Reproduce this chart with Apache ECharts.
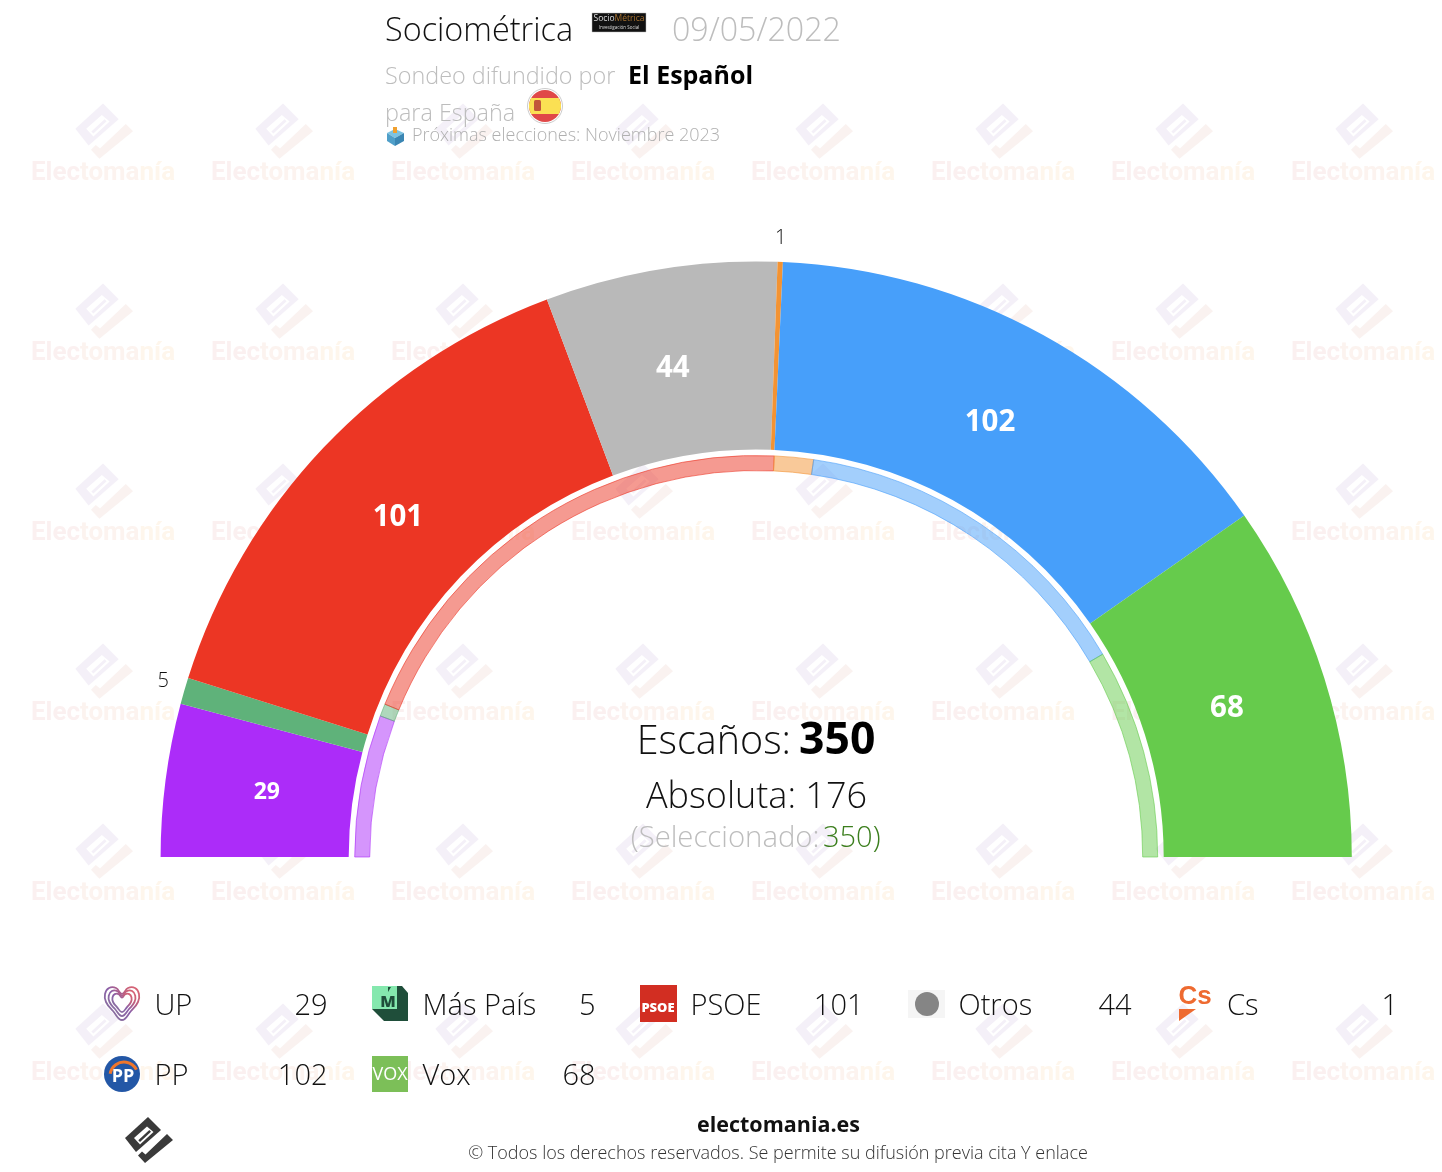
<!DOCTYPE html>
<html><head><meta charset="utf-8">
<style>html,body{margin:0;padding:0;background:#fff}#c{width:1442px;height:1172px}</style>
<script src="https://cdn.jsdelivr.net/npm/echarts@6/dist/echarts.min.js"></script>
</head><body><div id="c"></div>
<script>
const parties = ['UP','Más País','PSOE','Otros','Cs','PP','Vox'];
const seats = [29,5,101,44,1,102,68];
const colors = ['#AC2CF9','#5FB27A','#EC3624','#B9B9B9','#F39333','#479FFA','#66CB4C'];
const prevParties = ['UP','Más País','PSOE','Cs','PP','Vox'];
const prevSeats = [40,3.5,136.5,11,100,59];
const prevColors = ['#AC2CF9','#5FB27A','#EC3624','#F39333','#479FFA','#66CB4C'];
const FONT = '"Open Sans"';

const chart = echarts.init(document.getElementById('c'), null, {renderer:'canvas'});
const g = [];
function txt(text,x,y,size,fill,opt){opt=opt||{};g.push({type:'text',z:opt.z||20,silent:true,style:{text,x,y,fill,
  font:(opt.weight||'300')+' '+size+'px '+(opt.family||FONT),textAlign:opt.align||'left',textVerticalAlign:'middle'}});}
function poly(points,fill,z,stroke){g.push({type:'polygon',z:z,silent:true,shape:{points},style:{fill,stroke:stroke||null}});}
function logoPts(cx,cy,s){
  const m=a=>a.map(p=>[cx+p[0]*s,cy+p[1]*s]);
  return {box:m([[0,-22],[13,-9],[-12,13],[-23,-1]]),
          hole:m([[-1,-12.5],[5.5,-7],[-8,5.5],[-14,-1]]),
          bar:m([[1.3,-9],[3,-7.3],[-8,3],[-9.7,1.3]]),
          check:m([[19,-5],[25,1],[-3,24],[-10,16.5],[-6,12.5],[-2.5,15.5]])};
}
function logo(cx,cy,s,c1,c2,hole,z){const p=logoPts(cx,cy,s);poly(p.box,c1,z);poly(p.hole,hole,z);poly(p.bar,c1,z);poly(p.check,c2,z);}
// watermark tiles
for(let j=0;j<6;j++)for(let i=0;i<8;i++){
  const x=103+180*i,y=130+180*j;
  logo(x,y,1.2,'#F4F0F8','#FAF2F0','#fff',0);
  g.push({type:'text',z:0,silent:true,style:{text:'{a|Elec}{b|toma}{c|nía}',x,y:y+43,textAlign:'center',textVerticalAlign:'middle',
    font:'bold 26px Roboto',rich:{a:{fill:'#FBF0F0',font:'bold 26px Roboto'},b:{fill:'#FCF3EF',font:'bold 26px Roboto'},c:{fill:'#FEF6EC',font:'bold 26px Roboto'}}}});
}
// header
txt('Sociométrica',385,32,32.4,'#111');
g.push({type:'rect',z:20,silent:true,shape:{x:592,y:13,width:54,height:19},style:{fill:'#111',stroke:'#bbb',lineWidth:.5}});
g.push({type:'text',z:20,silent:true,style:{text:'{a|Socio}{b|Métrica}',x:619,y:19,textAlign:'center',textVerticalAlign:'middle',font:'400 8.5px '+FONT,
  rich:{a:{fill:'#ddd',font:'400 8.5px '+FONT},b:{fill:'#A5702F',font:'400 8.5px '+FONT}}}});
txt('Investigación Social',619,28,4.5,'#ddd',{align:'center',weight:'400'});
txt('09/05/2022',672,32,32.2,'#BDBDBD');
txt('Sondeo difundido por',385,77,23.4,'#BDBDBD');
txt('El Español',628,77,25,'#000',{weight:'700'});
txt('para España',385,114,23.4,'#BDBDBD');
g.push({type:'circle',z:20,silent:true,shape:{cx:545,cy:106,r:17.5},style:{fill:'#fff',stroke:'#ccc',lineWidth:1}});
g.push({type:'circle',z:20,silent:true,shape:{cx:545,cy:106,r:16},style:{fill:'#E04848'}});
poly([[531,98],[559,98],[561,104],[561,108],[559,114],[531,114],[529,108],[529,104]],'#FBE053',20);
g.push({type:'rect',z:20,silent:true,shape:{x:534,y:100,width:7,height:11,r:1.5},style:{fill:'#C2563A'}});
poly([[387,133],[395,129],[404,133],[395,138]],'#7CC3E2',20);
poly([[387,133],[395,138],[395,146],[387,141]],'#4F9FC9',20);
poly([[404,133],[395,138],[395,146],[404,141]],'#3A86B3',20);
g.push({type:'rect',z:20,silent:true,shape:{x:393,y:127,width:4,height:6},style:{fill:'#F0A030'}});
txt('Próximas elecciones: Noviembre 2023',412,136,18,'#B0B0B0');
// centre
txt('Escaños:',791,743,39.5,'#111',{align:'right'});
txt('350',799,741,44.5,'#000',{weight:'700'});
txt('Absoluta: 176',756.5,798,36,'#111',{align:'center'});
txt('(Seleccionado:',819.5,839,29.3,'#BDBDBD',{align:'right'});
txt('350)',823,839,29,'#3B7E1D');
// legend
const legendX=[104.5,372.5,640.5,908.5,1177];
const legendRight=[327.5,595.5,863.5,1131.5,1398];
parties.forEach((p,k)=>{
  const col=k%5,row=Math.floor(k/5),y=1005+row*70;
  txt(p,legendX[col]+50,y+2,29,'#111');
  txt(String(seats[k]),legendRight[col],y+2,29,'#111',{align:'right'});
});
// party logos
const heartPts=[[0,-8],[6,-14],[13,-14],[17,-8],[16,0],[9,9],[0,18],[-9,9],[-16,0],[-17,-8],[-13,-14],[-6,-14]];
[1,.78,.56].forEach(s=>g.push({type:'polygon',z:20,silent:true,
  shape:{points:heartPts.map(p=>[122+p[0]*s,1002+p[1]*s]),smooth:.45},
  style:{fill:null,lineWidth:1.8,stroke:{type:'linear',x:1,y:0,x2:0,y2:1,colorStops:[{offset:0,color:'#E8666E'},{offset:.3,color:'#C0607E'},{offset:.5,color:'#8A5FA8'},{offset:.75,color:'#8A6FA0'},{offset:1,color:'#7DB46A'}]}}}));
poly([[372,986],[402,986],[408,993],[408,1021],[384,1021],[372,1009]],'#1F4E3A',20);
poly([[372,986],[397,986],[397,1009],[372,1009]],'#85E8AE',20);
txt('M',388,1002,16,'#1F4E3A',{align:'center',weight:'800'});
poly([[388,987],[391,987],[388,992]],'#1F4E3A',20);
g.push({type:'rect',z:20,silent:true,shape:{x:640,y:985,width:37,height:37},style:{fill:'#D22E22'}});
txt('PSOE',658,1008,13,'#fff',{align:'center',weight:'800'});
g.push({type:'rect',z:20,silent:true,shape:{x:908,y:990,width:37,height:28},style:{fill:'#F5F5F5'}});
g.push({type:'circle',z:20,silent:true,shape:{cx:927,cy:1004,r:12},style:{fill:'#858585'}});
txt('Cs',1195,997,26,'#EE6A30',{align:'center',weight:'700',family:'"Liberation Sans"'});
poly([[1179,1009],[1196,1009],[1179,1021]],'#EE6A30',20);
g.push({type:'circle',z:20,silent:true,shape:{cx:122,cy:1074,r:18},style:{fill:'#2357A6'}});
g.push({type:'arc',z:20,silent:true,shape:{cx:124,cy:1076,r:14,startAngle:Math.PI*1.05,endAngle:Math.PI*1.85},style:{stroke:'#F0762B',lineWidth:3,fill:null}});
txt('PP',123,1077,18,'#fff',{align:'center',weight:'700'});
g.push({type:'rect',z:20,silent:true,shape:{x:372,y:1056,width:36,height:36},style:{fill:'#7CBF58'}});
txt('VOX',390,1075,18,'#fff',{align:'center',weight:'400'});
// footer
logo(148,1139,1,'#3A3A3A','#3A3A3A','#fff',20);
txt('electomania.es',778.5,1126,21.5,'#111',{align:'center',weight:'700'});
txt('© Todos los derechos reservados. Se permite su difusión previa cita Y enlace',778,1154,18,'#333',{align:'center'});

const labelSizes={29:23};
const labelNudge={44:[-4,-1],102:[-4,-2]};
const outsideOffset={5:[7,-5],1:[-11,-6]};
const inset=11;
let cum=0;
const mainData=parties.map((n,i)=>{
  const big=seats[i]>=10;
  const mid=(cum+seats[i]/2)/350*Math.PI; cum+=seats[i];
  const nudge=labelNudge[seats[i]]||[0,0];
  const off=[inset*Math.cos(mid)+nudge[0],inset*Math.sin(mid)+nudge[1]];
  return {name:n,value:seats[i],itemStyle:{color:colors[i]},
    label:big?{show:true,position:'inside',offset:off,color:'#fff',fontFamily:FONT,fontWeight:700,fontSize:labelSizes[seats[i]]||29.5,formatter:'{c}'}
             :{show:true,position:'outside',offset:outsideOffset[seats[i]],color:'#111',fontFamily:FONT,fontWeight:300,fontSize:20,formatter:'{c}'},
    labelLine:{show:false,length:18,length2:0}};
});
const prevData=prevParties.map((n,i)=>({name:n,value:prevSeats[i],
  itemStyle:{color:echarts.color.modifyAlpha(prevColors[i],.5),borderColor:echarts.color.modifyAlpha(prevColors[i],.6),borderWidth:1}}));
const C=[756.2,857];
chart.setOption({
  animation:false,backgroundColor:'#fff',
  graphic:{elements:g},
  series:[
    {type:'pie',name:'Escaños',center:C,radius:[407.5,595.6],startAngle:180,endAngle:0,clockwise:true,silent:true,
     avoidLabelOverlap:false,labelLayout:{hideOverlap:false},data:mainData,z:5},
    {type:'pie',name:'Anterior',center:C,radius:[386.5,401.5],startAngle:180,endAngle:0,clockwise:true,silent:true,
     label:{show:false},labelLine:{show:false},data:prevData,z:5}
  ]
});
</script></body></html>
